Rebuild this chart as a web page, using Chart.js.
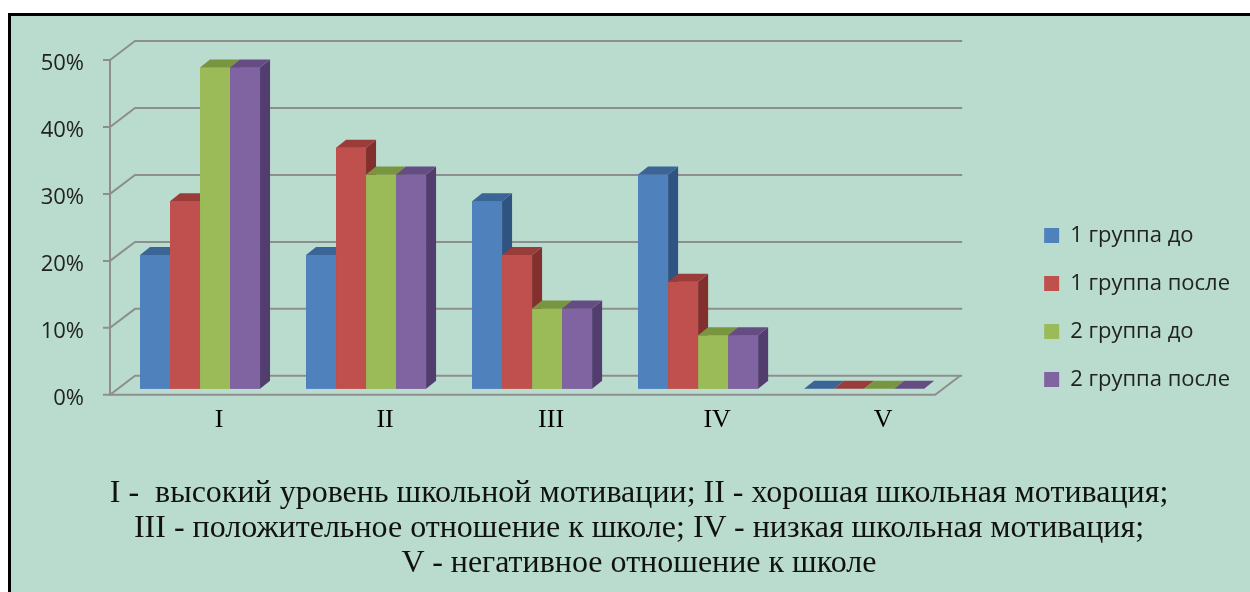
<!DOCTYPE html>
<html>
<head>
<meta charset="utf-8">
<script src="https://cdn.jsdelivr.net/npm/chart.js@4/dist/chart.umd.min.js"></script>
<style>
  html, body { margin: 0; padding: 0; width: 1250px; height: 592px; overflow: hidden; background: #fff; }
  #frame { position: absolute; left: 8px; top: 13px; width: 1300px; height: 700px;
           border: 3px solid #000; background: #b9dccf; }
  #chart { position: absolute; left: 0; top: 0; }
  #caption { position: absolute; left: 0; top: 474px; width: 1278px; text-align: center;
             font-family: "Liberation Serif", serif; font-size: 32px; line-height: 35px; color: #111; }
</style>
</head>
<body>
<div id="frame"></div>
<canvas id="chart" width="1250" height="592"></canvas>
<div id="caption">I -&nbsp; высокий уровень школьной мотивации; II - хорошая школьная мотивация;<br>III - положительное отношение к школе; IV - низкая школьная мотивация;<br>V - негативное отношение к школе</div>
<script>
const categories = ['I', 'II', 'III', 'IV', 'V'];
const group1Before = [20, 20, 28, 32, 0];
const group1After = [28, 36, 20, 16, 0];
const group2Before = [48, 32, 12, 8, 0];
const group2After = [48, 32, 12, 8, 0];
const yTicks = [0, 10, 20, 30, 40, 50];

const colors = {
    blue:   { front: '#4f81bd', top: '#3c6597', side: '#2f5482' },
    red:    { front: '#c0504d', top: '#9a3d3a', side: '#832f2d' },
    green:  { front: '#9bbb59', top: '#799540', side: '#657f33' },
    purple: { front: '#8064a2', top: '#654d84', side: '#523d6e' }
};
const shades = [colors.blue, colors.red, colors.green, colors.purple];

// 3D look: depth of each bar and of the back wall
const barDx = 10, barDy = 8;
const wallDx = 25, wallDy = 19;

const wallPlugin = {
    id: 'wall',
    beforeDatasetsDraw(chart) {
        const { ctx, chartArea, scales } = chart;
        const y = scales.y;
        const fx = chartArea.left - 7;
        const bx = fx + wallDx;
        ctx.save();
        ctx.strokeStyle = '#8e8e8e';
        ctx.lineWidth = 2;
        yTicks.forEach(v => {
            const py = y.getPixelForValue(v);
            ctx.beginPath();
            ctx.moveTo(fx - 7, py + 6);
            ctx.lineTo(fx, py + 6);
            ctx.lineTo(bx, py + 6 - wallDy);
            ctx.lineTo(chartArea.right + 15, py + 6 - wallDy);
            ctx.stroke();
        });
        const top = y.getPixelForValue(50) + 6;
        const bottom = y.getPixelForValue(0) + 6;
        ctx.beginPath();
        ctx.moveTo(fx, top);
        ctx.lineTo(fx, bottom);
        ctx.lineTo(chartArea.right - 12, bottom);
        ctx.lineTo(chartArea.right - 12 + wallDx, bottom - wallDy);
        ctx.stroke();
        ctx.restore();
    }
};

const barsPlugin = {
    id: 'bars3d',
    afterDatasetsDraw(chart) {
        const ctx = chart.ctx;
        ctx.save();
        chart.data.datasets.forEach((ds, i) => {
            const c = shades[i];
            chart.getDatasetMeta(i).data.forEach(el => {
                const { x, y, base, width } = el.getProps(['x', 'y', 'base', 'width'], true);
                const l = x - width / 2, r = x + width / 2;
                ctx.fillStyle = c.front;
                ctx.fillRect(l, y, width, base - y);
                ctx.fillStyle = c.side;
                ctx.beginPath();
                ctx.moveTo(r, y);
                ctx.lineTo(r + barDx, y - barDy);
                ctx.lineTo(r + barDx, base - barDy);
                ctx.lineTo(r, base);
                ctx.closePath();
                ctx.fill();
                ctx.fillStyle = c.top;
                ctx.beginPath();
                ctx.moveTo(l, y);
                ctx.lineTo(l + barDx, y - barDy);
                ctx.lineTo(r + barDx, y - barDy);
                ctx.lineTo(r, y);
                ctx.closePath();
                ctx.fill();
            });
        });
        ctx.restore();
    }
};

new Chart(document.getElementById('chart'), {
    type: 'bar',
    data: {
        labels: categories,
        datasets: [
            { label: '1 группа до', data: group1Before, backgroundColor: colors.blue.front },
            { label: '1 группа после', data: group1After, backgroundColor: colors.red.front },
            { label: '2 группа до', data: group2Before, backgroundColor: colors.green.front },
            { label: '2 группа после', data: group2After, backgroundColor: colors.purple.front }
        ]
    },
    options: {
        responsive: false,
        animation: false,
        layout: { padding: { top: 54, bottom: 140, left: 0, right: 10 } },
        datasets: { bar: { barPercentage: 1, categoryPercentage: 0.723, borderWidth: 0 } },
        scales: {
            x: {
                grid: { display: false, drawTicks: false },
                border: { display: false },
                ticks: { padding: 16, labelOffset: 19, color: '#000',
                         font: { family: 'Liberation Serif', size: 26 } }
            },
            y: {
                min: 0, max: 50,
                grid: { display: false, drawTicks: false },
                border: { display: false },
                ticks: { stepSize: 10, padding: 33, labelOffset: 10, color: '#222',
                         font: { family: 'Open Sans', size: 22 },
                         callback: v => v + '%' },
                afterFit: s => { s.width = 117; }
            },
            yRight: {
                type: 'linear',
                position: 'right',
                grid: { display: false, drawTicks: false },
                border: { display: false },
                ticks: { display: false },
                afterFit: s => { s.width = 71; }
            }
        },
        plugins: {
            tooltip: { enabled: false },
            legend: {
                position: 'right',
                align: 'start',
                maxWidth: 300,
                title: { display: true, text: ' ', padding: { top: 130, bottom: 0 }, font: { size: 12 } },
                labels: { boxWidth: 15, boxHeight: 15, padding: 26, color: '#222',
                          font: { family: 'Open Sans', size: 22 } }
            }
        }
    },
    plugins: [wallPlugin, barsPlugin]
});
</script>
</body>
</html>
